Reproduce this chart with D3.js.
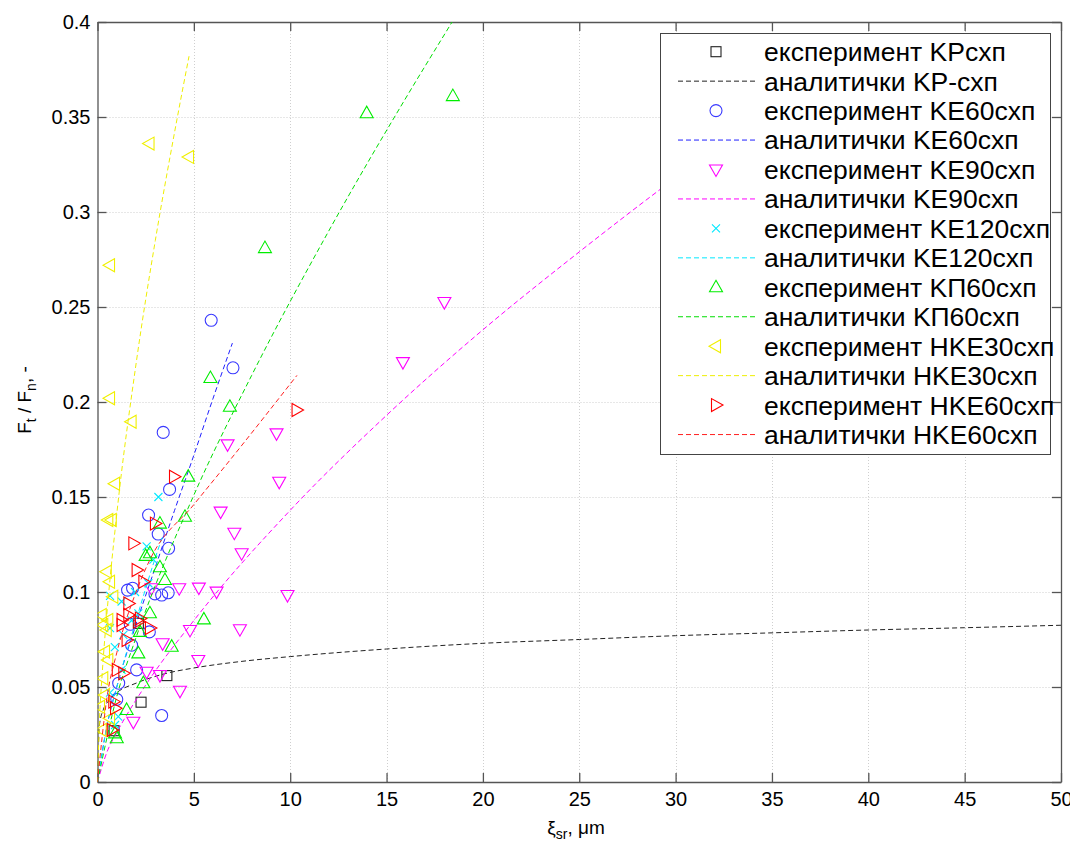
<!DOCTYPE html>
<html><head><meta charset="utf-8">
<script src="https://cdn.jsdelivr.net/npm/d3@7/dist/d3.min.js"></script>
<style>
body{margin:0;background:#fff}
svg{display:block}
text{font-family:"Liberation Sans",Arial,Helvetica,sans-serif}
</style>
</head><body>
<svg id="chart" width="1070" height="843"></svg>
<script>
// ---------- data ----------
const xTicks = [0,5,10,15,20,25,30,35,40,45,50];
const yTicks = [0,0.05,0.1,0.15,0.2,0.25,0.3,0.35,0.4];
const yTickLabels = ["0","0.05","0.1","0.15","0.2","0.25","0.3","0.35","0.4"];

// experiment points [x, y]
const kpExp = [[0.86,0.027],[2.26,0.042],[3.6,0.056],[2.12,0.0835]];
const ke60Exp = [[5.9,0.243],[7.03,0.218],[3.41,0.184],[3.74,0.154],[2.65,0.1405],[3.15,0.1305],[3.69,0.123],
  [1.56,0.101],[1.82,0.102],[2.98,0.099],[3.33,0.0984],[3.67,0.0996],[2.69,0.079],[1.77,0.072],[2.03,0.059],
  [1.0,0.0435],[1.1,0.052],[1.7,0.083],[3.33,0.035]];
const ke90Exp = [[18.0,0.2526],[15.85,0.221],[9.29,0.1835],[9.43,0.158],[6.75,0.1777],[6.39,0.1423],[7.1,0.1312],
  [7.48,0.1204],[4.24,0.102],[5.26,0.1023],[6.18,0.1002],[9.86,0.0984],[2.8,0.102],[4.8,0.08],[7.39,0.0804],
  [3.38,0.073],[5.23,0.0642],[3.24,0.0563],[4.28,0.048],[1.86,0.0317],[2.55,0.058]];
const ke120Exp = [[3.16,0.150],[2.55,0.124],[2.9,0.117],[1.95,0.1],[0.65,0.098],[1.25,0.095],[2.64,0.1046],
  [0.65,0.081],[1.77,0.085],[0.9,0.071],[2.12,0.0888],[1.34,0.0774],[0.91,0.030],[1.08,0.0344],[0.65,0.047],[1.25,0.059]];
const kp60Exp = [[13.97,0.352],[18.44,0.361],[8.69,0.281],[5.86,0.2126],[6.87,0.1975],[4.71,0.1607],[4.54,0.1396],
  [3.24,0.136],[2.72,0.1204],[2.5,0.119],[3.24,0.113],[3.5,0.1063],[2.72,0.0888],[2.2,0.079],[3.85,0.0712],[2.12,0.0677],
  [2.38,0.052],[1.51,0.0379],[0.91,0.0256],[5.52,0.0856],[1.0,0.023]];
const hke30Exp = [[2.7,0.336],[4.75,0.329],[0.65,0.272],[0.65,0.202],[1.77,0.1896],[0.91,0.157],[0.56,0.1379],
  [0.74,0.1379],[0.48,0.1107],[0.65,0.1054],[0.82,0.0975],[0.22,0.0879],[0.3,0.0826],[0.39,0.0686],[0.3,0.0546],
  [0.13,0.0396],[0.22,0.0274],[0.65,0.0335],[0.39,0.0458],[0.56,0.0642],[0.48,0.08],[0.56,0.0853]];
const hke60Exp = [[10.33,0.1958],[3.97,0.1607],[2.98,0.136],[1.86,0.1256],[2.03,0.1116],[2.38,0.1054],[1.6,0.094],
  [1.25,0.0826],[1.6,0.0879],[2.2,0.086],[2.72,0.081],[1.51,0.0747],[1.0,0.059],[1.34,0.0572],[0.82,0.0423],
  [0.91,0.0388],[0.74,0.0274],[1.25,0.0853],[2.12,0.0844]];

// analytic curves [x, y]
const kpAn = [[0,0],[0.1,0.03],[0.3,0.038],[0.6,0.043],[1,0.047],[2,0.052],[3.5,0.057],[5,0.06],[7.5,0.0635],
  [10,0.066],[15,0.07],[20,0.073],[25,0.075],[30,0.077],[35,0.0785],[40,0.08],[45,0.0812],[50,0.0825]];
const ke60An = [[0,0],[0.5,0.03],[1,0.05],[2,0.083],[3,0.113],[4,0.143],[5,0.172],[6,0.202],[7,0.231]];
const ke90An = [[0,0],[0.5,0.016],[1,0.026],[2.5,0.051],[5,0.085],[10,0.143],[15,0.193],[20,0.238],[25,0.279],[30,0.318],[32,0.333]];
const ke120An = [[0,0],[0.5,0.03],[1,0.05],[2,0.085],[3,0.118],[3.4,0.13]];
const kp60An = [[0,0],[1,0.045],[2,0.076],[5,0.151],[8,0.214],[12,0.29],[16,0.36],[18.4,0.4],[19,0.41]];
const hke30An = [[0,0],[0.1,0.032],[0.25,0.058],[0.5,0.09],[1,0.141],[2,0.22],[3,0.285],[4,0.342],[4.75,0.382]];
const hke60An = [[0,0],[0.5,0.045],[1,0.068],[2,0.1],[2.72,0.117],[5,0.146],[7,0.171],[10.35,0.214]];

const seriesNames = ["KPсхп","KP-схп","KE60схп","KE60схп","KE90схп","KE90схп","KE120схп","KE120схп","KП60схп","KП60схп","HKE30схп","HKE30схп","HKE60схп","HKE60схп"];

// ---------- chart ----------
const svg = d3.select("#chart");
const L = 97.5, R = 1061, T = 22, B = 782;
const x = d3.scaleLinear().domain([0,50]).range([L,R]);
const y = d3.scaleLinear().domain([0,0.4]).range([B,T]);

svg.append("defs").append("clipPath").attr("id","clip")
  .append("rect").attr("x",L).attr("y",T).attr("width",R-L).attr("height",B-T);

// grid
const grid = svg.append("g").attr("stroke","#cfcfcf").attr("stroke-width",1).attr("stroke-dasharray","1,2");
grid.selectAll(".gx").data(xTicks.slice(1,-1)).join("line")
  .attr("x1",d=>Math.round(x(d))+0.5).attr("x2",d=>Math.round(x(d))+0.5).attr("y1",T).attr("y2",B);
grid.selectAll(".gy").data(yTicks.slice(1,-1)).join("line")
  .attr("y1",d=>Math.round(y(d))+0.5).attr("y2",d=>Math.round(y(d))+0.5).attr("x1",L).attr("x2",R);

// axes
const fmtY = d => yTickLabels[yTicks.indexOf(d)];
const axB = svg.append("g").attr("transform",`translate(0,${B})`)
  .call(d3.axisBottom(x).tickValues(xTicks).tickSize(-9).tickSizeOuter(0).tickPadding(10).tickFormat(d3.format("d")));
const axL = svg.append("g").attr("transform",`translate(${L},0)`)
  .call(d3.axisLeft(y).tickValues(yTicks).tickSize(-9).tickSizeOuter(0).tickPadding(7).tickFormat(fmtY));
const axT = svg.append("g").attr("transform",`translate(0,${T})`)
  .call(d3.axisTop(x).tickValues(xTicks).tickSize(-9).tickSizeOuter(0).tickFormat(""));
const axR = svg.append("g").attr("transform",`translate(${R},0)`)
  .call(d3.axisRight(y).tickValues(yTicks).tickSize(-9).tickSizeOuter(0).tickFormat(""));
[axB,axL,axT,axR].forEach(a=>{
  a.selectAll("path,line").attr("stroke","#555").attr("stroke-width",1.3);
  a.selectAll("text").attr("fill","#000").style("font-size","20px").style("font-family","'Liberation Sans',Arial,sans-serif");
});

// symbols
function marker(g, type, color) {
  if (type==="square") return g.append("rect").attr("x",-5).attr("y",-5).attr("width",10).attr("height",10)
      .attr("fill","none").attr("stroke",color);
  if (type==="circle") return g.append("circle").attr("r",6).attr("fill","none").attr("stroke",color);
  if (type==="x") return g.append("path").attr("d","M-4,-4L4,4M-4,4L4,-4").attr("fill","none").attr("stroke",color);
  let pts;
  if (type==="down") pts = [[-6.5,-4.5],[6.5,-4.5],[0,7]];
  if (type==="up") pts = [[-6.5,4.5],[6.5,4.5],[0,-7]];
  if (type==="left") pts = [[4.5,-6.5],[4.5,6.5],[-7,0]];
  if (type==="right") pts = [[-4.5,-6.5],[-4.5,6.5],[7,0]];
  return g.append("path").attr("d","M"+pts.map(p=>p.join(",")).join("L")+"Z").attr("fill","none").attr("stroke",color);
}

const series = [
  {exp:kpExp, an:kpAn, type:"square", color:"#222", lineColor:"#222"},
  {exp:ke60Exp, an:ke60An, type:"circle", color:"#3a3aff", lineColor:"#2020ff"},
  {exp:ke90Exp, an:ke90An, type:"down", color:"#ff00ff", lineColor:"#ff00ff"},
  {exp:ke120Exp, an:ke120An, type:"x", color:"#00e8ff", lineColor:"#00e8ff"},
  {exp:kp60Exp, an:kp60An, type:"up", color:"#00ee00", lineColor:"#00dd00"},
  {exp:hke30Exp, an:hke30An, type:"left", color:"#f0f000", lineColor:"#eeee00"},
  {exp:hke60Exp, an:hke60An, type:"right", color:"#ff0000", lineColor:"#ff2020"}
];

const plot = svg.append("g").attr("clip-path","url(#clip)");
const line = d3.line().x(d=>x(d[0])).y(d=>y(d[1])).curve(d3.curveMonotoneX);
series.forEach(s=>{
  const g = plot.append("g");
  s.exp.forEach(p=>{
    const m = g.append("g").attr("transform",`translate(${x(p[0])},${y(p[1])})`);
    marker(m, s.type, s.color).attr("stroke-width",1.1);
  });
  plot.append("path").datum(s.an).attr("d",line).attr("fill","none")
    .attr("stroke",s.lineColor).attr("stroke-width",1).attr("stroke-dasharray","5,3");
});

// legend
const lg = svg.append("g");
lg.append("rect").attr("x",660.5).attr("y",33.5).attr("width",390).attr("height",421)
  .attr("fill","#fff").attr("stroke","#444").attr("stroke-width",1);
seriesNames.forEach((name,i)=>{
  const cy = 51.7 + i*29.45;
  const s = series[Math.floor(i/2)];
  const isExp = i%2===0;
  if (isExp) {
    const m = lg.append("g").attr("transform",`translate(716,${cy})`);
    marker(m, s.type, s.color).attr("stroke-width",1.1);
  } else {
    lg.append("line").attr("x1",678).attr("x2",755).attr("y1",cy).attr("y2",cy)
      .attr("stroke",s.lineColor).attr("stroke-width",1).attr("stroke-dasharray","5,3");
  }
  lg.append("text").attr("x",764).attr("y",cy+9.4).style("font-size","26.5px").attr("fill","#000")
    .text((isExp?"експеримент ":"аналитички ")+name);
});

// axis titles
const yl = svg.append("text").attr("transform","translate(31,400) rotate(-90)").attr("text-anchor","middle")
  .style("font-size","19px").attr("fill","#000");
yl.append("tspan").text("F");
yl.append("tspan").attr("dy",5).style("font-size","14px").text("t");
yl.append("tspan").attr("dy",-5).text(" / F");
yl.append("tspan").attr("dy",5).style("font-size","14px").text("n");
yl.append("tspan").attr("dy",-5).text(", -");

const xl = svg.append("text").attr("x",576).attr("y",834).attr("text-anchor","middle")
  .style("font-size","19px").attr("fill","#000");
xl.append("tspan").text("ξ");
xl.append("tspan").attr("dy",5).style("font-size","14px").text("sr");
xl.append("tspan").attr("dy",-5).text(", μm");
</script>
</body></html>
